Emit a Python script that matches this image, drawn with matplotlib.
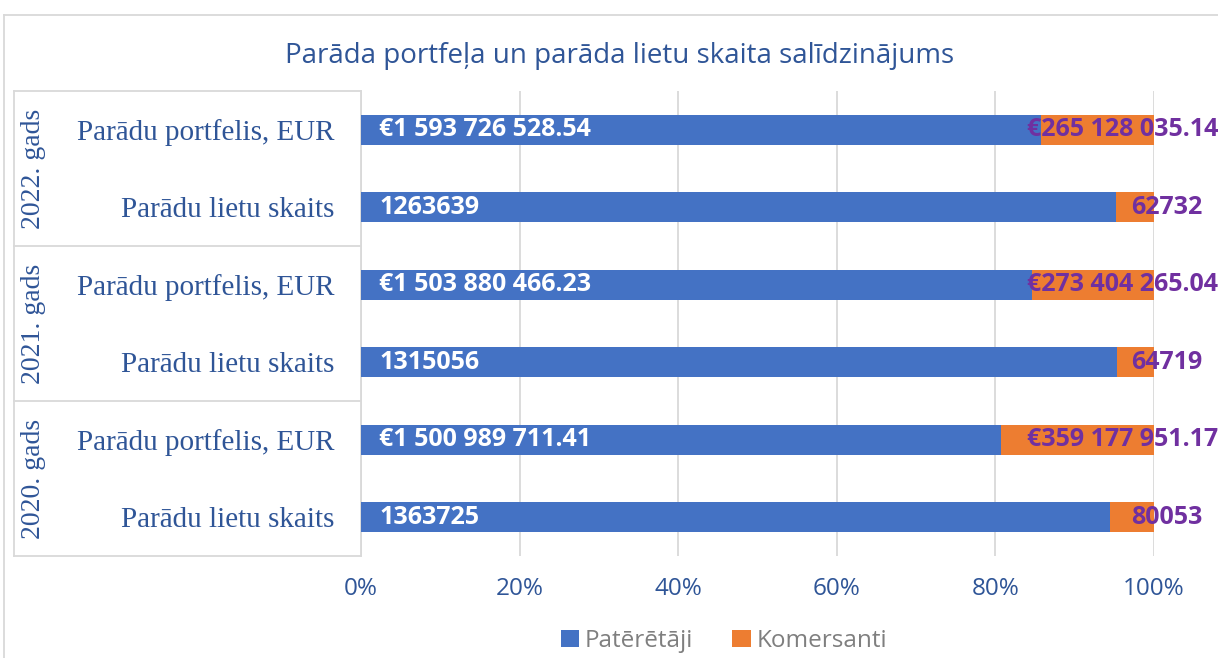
import matplotlib
matplotlib.use("Agg")
import matplotlib.pyplot as plt
import matplotlib.transforms as mtransforms
from matplotlib.lines import Line2D
import numpy as np

# data, top to bottom
years = ["2022. gads", "2021. gads", "2020. gads"]
categories = ["Parādu portfelis, EUR", "Parādu lietu skaits"] * 3
consumers = [1593726528.54, 1263639, 1503880466.23, 1315056, 1500989711.41, 1363725]
merchants = [265128035.14, 62732, 273404265.04, 64719, 359177951.17, 80053]
consumer_labels = ["€1 593 726 528.54", "1263639", "€1 503 880 466.23", "1315056",
                   "€1 500 989 711.41", "1363725"]
merchant_labels = ["€265 128 035.14", "62732", "€273 404 265.04", "64719",
                   "€359 177 951.17", "80053"]
ticks = [0, 0.2, 0.4, 0.6, 0.8, 1.0]
tick_labels = ["0%", "20%", "40%", "60%", "80%", "100%"]

BLUE = "#4472C4"
ORANGE = "#ED7D31"
PURPLE = "#7030A0"
TEXT_BLUE = "#2F5597"
GRID = "#D9D9D9"

W, H = 1218, 658
fig = plt.figure(figsize=(W / 100, H / 100), dpi=100)
ax = fig.add_axes([361 / W, 1 - 556 / H, (1154 - 361) / W, (556 - 91) / H])

cons = np.array(consumers)
merc = np.array(merchants)
total = cons + merc
cons_share = cons / total
merc_share = merc / total
y = np.arange(len(categories))

ax.barh(y, cons_share, height=0.39, color=BLUE, label="Patērētāji", zorder=3)
ax.barh(y, merc_share, left=cons_share, height=0.39, color=ORANGE, label="Komersanti", zorder=3)

ax.set_ylim(len(categories) - 0.5, -0.5)
ax.set_xlim(0, 1)
ax.set_xticks(ticks)
ax.set_xticklabels(tick_labels, fontsize=17.5, color=TEXT_BLUE, family="Open Sans")
ax.tick_params(axis="x", length=0, pad=15)
ax.set_yticks(y)
ax.set_yticklabels(categories, fontsize=21, color=TEXT_BLUE, family="Liberation Serif")
ax.tick_params(axis="y", length=0, pad=19)
ax.grid(axis="x", color=GRID, linewidth=1.3, zorder=0)
for side in ["top", "right", "bottom"]:
    ax.spines[side].set_visible(False)
ax.spines["left"].set_color(GRID)
ax.spines["left"].set_linewidth(1.3)

# data labels
for i in range(len(categories)):
    ax.annotate(consumer_labels[i], xy=(0, y[i]), xytext=(13, 0), textcoords="offset points",
                ha="left", va="center", color="white", fontsize=18, fontweight="bold",
                family="Open Sans", zorder=5)
    off = 46 if consumer_labels[i].startswith("€") else 35
    ax.annotate(merchant_labels[i], xy=(1.0, y[i]), xytext=(off, 0), textcoords="offset points",
                ha="right", va="center", color=PURPLE, fontsize=18, fontweight="bold",
                family="Open Sans", zorder=5, annotation_clip=False)

# table lines on the left
trans = mtransforms.blended_transform_factory(ax.transAxes, ax.transData)
x_left = (14 - 361) / (1154 - 361)
for yb in [-0.5, 1.5, 3.5, 5.5]:
    ax.plot([x_left, 0], [yb, yb], color=GRID, linewidth=1.3, transform=trans, clip_on=False)
ax.plot([x_left, x_left], [-0.5, 5.5], color=GRID, linewidth=1.3, transform=trans, clip_on=False)
x_year = (33 - 361) / (1154 - 361)
for k, yr in enumerate(years):
    ax.text(x_year, 2 * k + 0.5, yr, rotation=90, ha="center", va="center", fontsize=20,
            color=TEXT_BLUE, family="Liberation Serif", transform=trans)

# chart border
fig.add_artist(Line2D([4 / W, 4 / W], [0, 1 - 15 / H], color=GRID, linewidth=1.3))
fig.add_artist(Line2D([4 / W, 1], [1 - 15 / H, 1 - 15 / H], color=GRID, linewidth=1.3))

fig.text(620 / W, 1 - 56 / H, "Parāda portfeļa un parāda lietu skaita salīdzinājums",
         ha="center", va="center", fontsize=20, color=TEXT_BLUE, family="Open Sans")

leg = fig.legend(loc="center", bbox_to_anchor=(724 / W, 1 - 641 / H), ncol=2, frameon=False,
                 prop={"family": "Open Sans", "size": 17.5}, handlelength=0.75, handleheight=0.75,
                 columnspacing=1.6, handletextpad=0.25)
for t in leg.get_texts():
    t.set_color("#7F7F7F")

fig.savefig("out.png", dpi=100)
